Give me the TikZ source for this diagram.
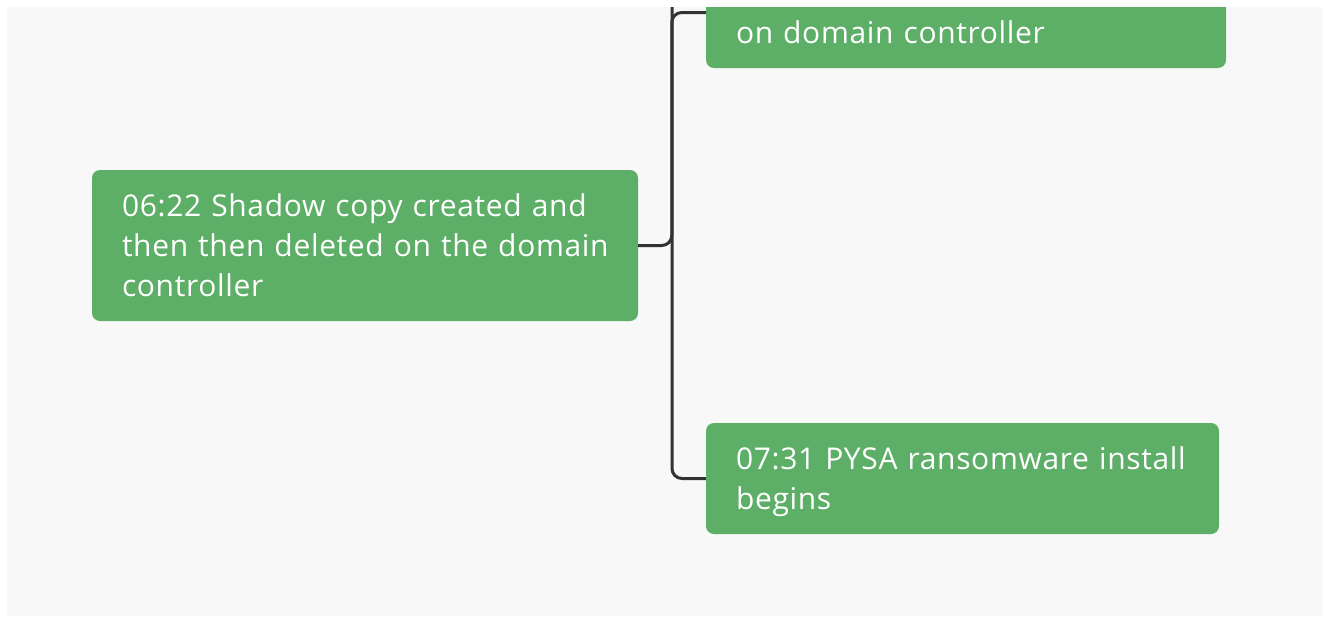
\documentclass[tikz,border=0pt]{standalone}
\usepackage{fontspec}
\setmainfont{Open Sans}[LetterSpace=2.2]
\usetikzlibrary{calc}
\definecolor{bggray}{HTML}{F8F8F8}
\definecolor{boxgreen}{HTML}{5DAE66}
\definecolor{linegray}{HTML}{333333}
\newcommand{\firstline}{\rule{0pt}{29pt}}
\tikzset{
  event/.style={fill=boxgreen, rounded corners=8pt, text=white, align=left,
    inner xsep=30pt, inner ysep=0pt, font=\fontsize{30}{40}\selectfont},
  link/.style={draw=linegray, line width=3pt, rounded corners=10pt}
}
\begin{document}
\begin{tikzpicture}[x=1pt,y=-1pt]
\useasboundingbox (0,0) rectangle (1323,616);
\fill[white] (0,0) rectangle (1323,616);
\fill[bggray] (7,7) rectangle (1323,616);
\clip (7,7) rectangle (1323,616);
\node[event, text width=486pt, minimum height=151pt] (L) at (365,245.5) {06:22 Shadow copy created and\\then then deleted on the domain\\controller};
\node[event, text width=460pt, minimum height=111pt] (T) at (966,12.5) {\firstline\\on domain controller\vphantom{g}};
\node[event, text width=453pt, minimum height=111pt] (B) at (962.5,478.5) {\firstline 07:31 PYSA ransomware install\\begins};
\coordinate (up) at (672,-20);
\draw[link] (L.east) -| ($(T.west)+(-34,0)$) -- (T.west);
\draw[link] (up) |- (B.west);
\end{tikzpicture}
\end{document}
